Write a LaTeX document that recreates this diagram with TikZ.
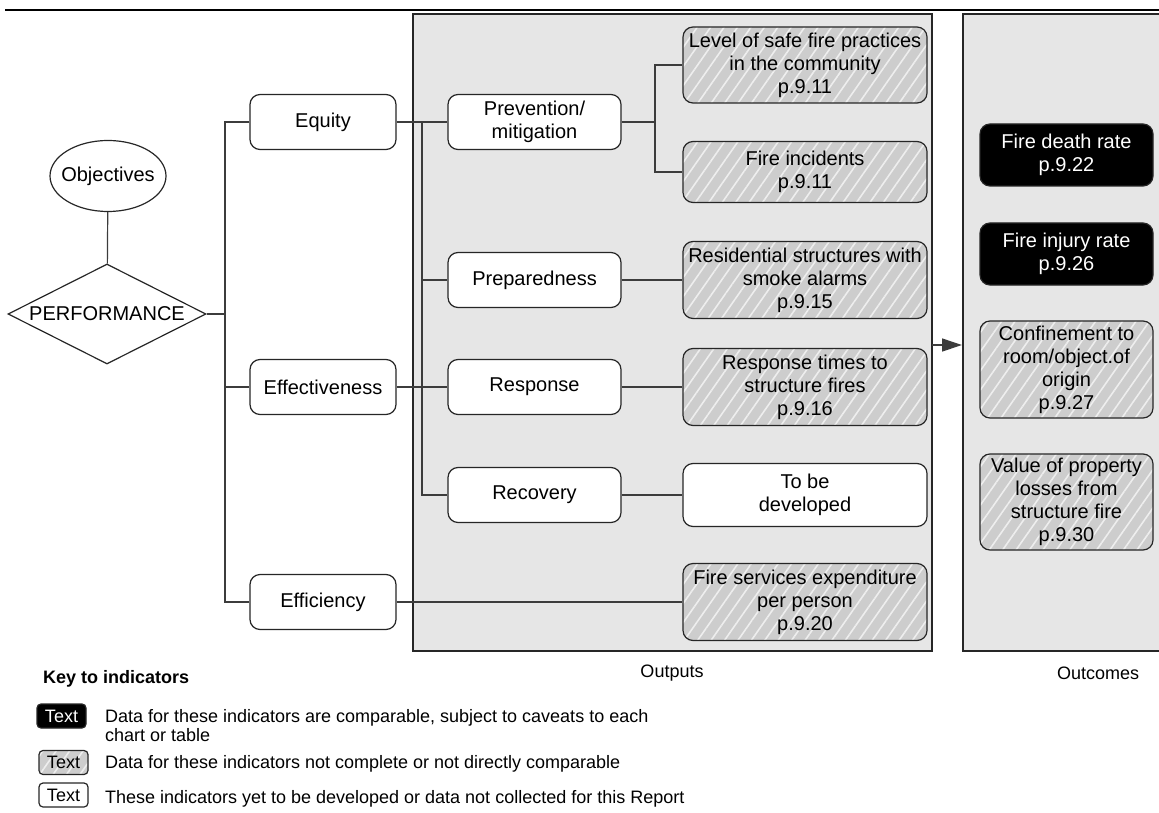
\documentclass[tikz,border=0pt]{standalone}
\usepackage{fontspec}
\setmainfont{Liberation Sans}
\usetikzlibrary{positioning}
\usetikzlibrary{arrows.meta}
\usetikzlibrary{shapes.geometric}
\usetikzlibrary{patterns.meta}
\definecolor{panelgray}{RGB}{230,230,230}
\definecolor{hatchgray}{RGB}{205,205,205}
\definecolor{hatchline}{RGB}{238,238,238}
\definecolor{linkgray}{RGB}{60,60,60}

\begin{document}
\begin{tikzpicture}[x=0.5pt, y=-0.5pt, >={Triangle[length=10pt,width=6.5pt]},
font=\fontsize{10}{11.5}\selectfont,
box/.style={draw=black!85, rounded corners=5pt, line width=0.6pt, align=center, inner sep=0pt},
plain/.style={box, fill=white},
hatched/.style={box, preaction={fill=hatchgray}, pattern={Lines[angle=55,distance=5.5pt,line width=0.8pt]}, pattern color=hatchline},
solid/.style={box, fill=black, text=white},
goal/.style={minimum width=73pt, minimum height=27.5pt},
stage/.style={minimum width=86.5pt, minimum height=27.5pt},
ind/.style={minimum width=122pt},
outc/.style={minimum width=86.5pt},
panel/.style={draw=black!85, fill=panelgray, line width=0.9pt, inner sep=0pt, minimum height=318.5pt},
link/.style={draw=linkgray, line width=0.6pt},
keybox/.style={minimum width=24.5pt, minimum height=12pt, rounded corners=2pt, font=\fontsize{9}{9.5}\selectfont},
keytext/.style={anchor=west, align=left, font=\fontsize{9}{9.5}\selectfont}]

\useasboundingbox (0,0) rectangle (1159,812);
\clip (0,0) rectangle (1159,812);

% rule
\draw[line width=1.2pt] (5,10) -- (1159,10);

% panels
\node[panel, minimum width=259.5pt] (outputs) at (672.5,332.5) {};
\node[panel, minimum width=130pt, anchor=west] (outcomes) at (962,332.5) {};
\node[font=\fontsize{9}{10}\selectfont] (outlbl) at (672,673) {Outputs};
\node[font=\fontsize{9}{10}\selectfont] (outclbl) at (1098,673) {Outcomes};

% objectives
\node[ellipse, draw=black!85, line width=0.6pt, minimum width=58pt, minimum height=35.5pt, inner sep=0pt] (obj) at (108,176) {\makebox[0pt]{Objectives}};
\node[diamond, draw=black!85, line width=0.6pt, fill=white, minimum width=99pt, minimum height=50pt, inner sep=0pt] (perf) at (107,314) {\makebox[0pt]{PERFORMANCE}};

\node[plain, goal] (equity) at (323,122) {Equity};
\node[plain, goal] (effect) at (323,387) {Effectiveness};
\node[plain, goal] (efficiency) at (323,602) {Efficiency};

% outputs
\node[plain, stage] (prevention) at (534.5,122) {Prevention/\\mitigation};
\node[plain, stage] (preparedness) at (534.5,280) {Preparedness};
\node[plain, stage] (response) at (534.5,387) {Response};
\node[plain, stage] (recovery) at (534.5,495) {Recovery};

\node[hatched, ind, minimum height=38pt] (level) at (805,65) {Level of safe fire practices\\in the community\\p.9.11};
\node[hatched, ind, minimum height=30.5pt] (fireinc) at (805,172) {Fire incidents\\p.9.11};
\node[hatched, ind, minimum height=38.5pt] (resid) at (805,280) {Residential structures with\\smoke alarms\\p.9.15};
\node[hatched, ind, minimum height=38.5pt] (resptime) at (805,387) {Response times to\\structure fires\\p.9.16};
\node[plain, ind, minimum height=31.5pt] (tobedev) at (805,495) {To be\\developed};
\node[hatched, ind, minimum height=38.5pt] (fireexp) at (805,602) {Fire services expenditure\\per person\\p.9.20};

% outcomes
\node[solid, outc, minimum height=31pt] (death) at (1066.5,155) {Fire death rate\\p.9.22};
\node[solid, outc, minimum height=31pt] (injury) at (1066.5,254) {Fire injury rate\\p.9.26};
\node[hatched, outc, minimum height=48.5pt] (confine) at (1066.5,369.5) {Confinement to\\room/object.of\\origin\\p.9.27};
\node[hatched, outc, minimum height=48pt] (losses) at (1066.5,502) {Value of property\\losses from\\structure fire\\p.9.30};

% links
\draw[link] (obj) -- (perf);
\coordinate (bus1) at (225,314);
\draw[link] (perf.east) -- (bus1);
\draw[link] (equity.west) -| (bus1) |- (efficiency.west);
\draw[link] (bus1 |- effect.west) -- (effect.west);

\draw[link] (equity) -- (prevention);
\draw[link] (effect) -- (response);
\draw[link] (efficiency) -- (fireexp);
\coordinate (bus2) at (422,122);
\draw[link] (bus2) |- (recovery.west);
\draw[link] (bus2 |- preparedness.west) -- (preparedness.west);

\coordinate (bus3) at (655,122);
\draw[link] (prevention.east) -- (bus3);
\draw[link] (level.west) -| (bus3) |- (fireinc.west);
\draw[link] (preparedness) -- (resid);
\draw[link] (response) -- (resptime);
\draw[link] (recovery) -- (tobedev);

\coordinate (arrowtail) at (932,345);
\draw[link, ->] (arrowtail) -- (arrowtail -| outcomes.west);

% key
\node[anchor=west, font=\bfseries\fontsize{9}{10}\selectfont] (keytitle) at (36,679) {Key to indicators};
\node[solid, keybox] (keysolid) at (61.5,716) {Text};
\node[hatched, keybox] (keyhatch) at (63.5,762.5) {Text};
\node[plain, keybox] (keyplain) at (63.5,795) {Text};
\node[keytext] (keyone) at (98,725.5) {Data for these indicators are comparable, subject to caveats to each\\chart or table};
\node[keytext] (keytwo) at (98,764) {Data for these indicators not complete or not directly comparable};
\node[keytext] (keythree) at (98,799) {These indicators yet to be developed or data not collected for this Report};

\end{tikzpicture}
\end{document}
